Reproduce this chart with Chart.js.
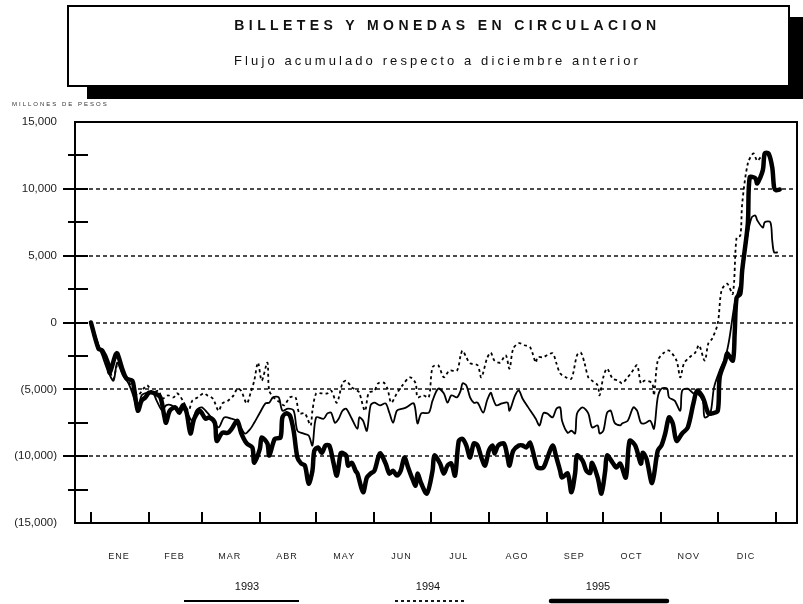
<!DOCTYPE html>
<html lang="es">
<head>
<meta charset="utf-8">
<title>Billetes y monedas en circulación</title>
<script src="https://cdn.jsdelivr.net/npm/chart.js@4.4.1/dist/chart.umd.min.js"></script>
<style>
    html, body { margin: 0; padding: 0; background: #fff; }
    #wrap {
        position: relative; width: 803px; height: 604px; overflow: hidden;
        font-family: "Liberation Sans", Arial, sans-serif; color: #111;
    }
    #grafica { position: absolute; left: 0; top: 0; }
    .caja {
        position: absolute; left: 67px; top: 5px; width: 719px; height: 78px;
        border: 2px solid #000; background: #fff; box-shadow: 20px 12px 0 #000;
    }
    .caja h1, .caja p {
        position: absolute; left: 0; right: 0; margin: 0; text-align: center;
        line-height: 16px; white-space: nowrap;
    }
    .caja h1 { top: 10px; padding-left: 38px; font-size: 14px; font-weight: bold; letter-spacing: 4.4px; }
    .caja p { top: 46px; padding-left: 18px; font-size: 13px; letter-spacing: 3.1px; }
    .unidad {
        position: absolute; left: 12px; top: 101px; font-size: 6px;
        letter-spacing: 2px; color: #333; white-space: nowrap;
    }
</style>
</head>
<body>
<div id="wrap">
    <canvas id="grafica" width="803" height="604"></canvas>
    <div class="caja">
        <h1>BILLETES Y MONEDAS EN CIRCULACION</h1>
        <p>Flujo acumulado respecto a diciembre anterior</p>
    </div>
    <div class="unidad">MILLONES DE PESOS</div>
</div>
<script>
'use strict';

// dia del año (0 = 1 de enero) y flujo acumulado en millones de pesos
const meses = ["ENE", "FEB", "MAR", "ABR", "MAY", "JUN", "JUL", "AGO", "SEP", "OCT", "NOV", "DIC"];
const inicioMes = [0, 31, 59, 90, 120, 151, 181, 212, 243, 273, 304, 334, 365];
const lineasGuia = [-10000, -5000, 0, 5000, 10000];
const anios = ["1993", "1994", "1995"];

const dias1993 = [
    0, 4, 6, 9, 12, 14, 17, 20, 22, 25,
    27, 30, 33, 35, 38, 40, 43, 46, 48, 51,
    54, 56, 59, 62, 64, 68, 71, 75, 78, 82,
    85, 87, 90, 93, 95, 97, 100, 102, 105, 108,
    110, 113, 116, 118, 120, 124, 126, 128, 130, 132,
    134, 136, 139, 142, 143, 145, 147, 149, 151, 154,
    157, 159, 161, 163, 166, 168, 172, 174, 176, 180,
    182, 185, 188, 190, 192, 195, 197, 198, 200, 202,
    204, 206, 209, 211, 213, 214, 216, 219, 222, 223,
    226, 228, 230, 233, 237, 239, 241, 243, 246, 248,
    250, 251, 254, 256, 258, 259, 262, 265, 267, 270,
    271, 273, 275, 277, 279, 282, 283, 286, 289, 291,
    293, 295, 298, 300, 302, 304, 307, 308, 311, 314,
    315, 318, 321, 323, 326, 327, 330, 332, 335, 338,
    340, 343, 345, 347, 348, 350, 352, 354, 355, 358,
    359, 362, 363, 364, 366
];
const valores1993 = [
    0, -1700, -2450, -3600, -4350, -3000, -3950, -4550, -5250, -6450,
    -5450, -5250, -5250, -5850, -6600, -6200, -6200, -6600, -6350, -6750,
    -7350, -6600, -6350, -6750, -7100, -7850, -7100, -7200, -7350, -8300,
    -7950, -7500, -6750, -6050, -6000, -5600, -5600, -6600, -6450, -6600,
    -8100, -8300, -8450, -9200, -7100, -7200, -6800, -6750, -7500, -7200,
    -6600, -6450, -7200, -7950, -7100, -7350, -8100, -6200, -6000, -6200,
    -6050, -6750, -7500, -6600, -6450, -6350, -6050, -7550, -6800, -6750,
    -5850, -4950, -5300, -6000, -5450, -5600, -5100, -4550, -4700, -5600,
    -6000, -6000, -6750, -5850, -5250, -5600, -6200, -6050, -6000, -6600,
    -5450, -5100, -5700, -6350, -7200, -7700, -6800, -6800, -7100, -6450,
    -6350, -7350, -8250, -8100, -8300, -6800, -6350, -6800, -7850, -7700,
    -8300, -8100, -6750, -6600, -7500, -7700, -7550, -7350, -6350, -6600,
    -7500, -7550, -7350, -7950, -5600, -4950, -4950, -5600, -5850, -6600,
    -5100, -4950, -5300, -5300, -5850, -7100, -6800, -4850, -3600, -2600,
    -1350, 1400, 2400, 3350, 4850, 6650, 7850, 8000, 7650, 7100,
    7500, 7500, 6150, 5250, 5250
];

const dias1994 = [
    0, 4, 6, 9, 12, 14, 17, 20, 22, 25,
    28, 30, 33, 36, 38, 41, 44, 46, 49, 52,
    54, 57, 60, 62, 65, 68, 70, 73, 76, 78,
    80, 83, 85, 87, 89, 91, 94, 95, 98, 101,
    103, 106, 109, 111, 114, 117, 118, 120, 123, 126,
    128, 131, 134, 136, 139, 142, 143, 146, 148, 151,
    153, 156, 158, 160, 163, 166, 170, 173, 174, 177,
    180, 182, 185, 188, 191, 195, 197, 198, 200, 202,
    206, 208, 211, 213, 215, 218, 221, 223, 225, 228,
    231, 234, 237, 238, 241, 243, 246, 248, 250, 253,
    256, 259, 261, 263, 265, 267, 270, 271, 273, 275,
    278, 281, 283, 286, 288, 291, 293, 295, 299, 300,
    302, 305, 308, 312, 314, 316, 319, 322, 324, 327,
    329, 331, 334, 336, 339, 342, 344, 346, 347, 350,
    353, 355, 357
];
const valores1994 = [
    0, -1700, -2250, -3200, -4200, -3200, -3600, -4350, -4950, -5450,
    -4950, -4700, -5250, -5100, -5700, -5450, -5600, -5300, -5850, -6600,
    -5850, -5600, -5300, -5450, -5700, -6600, -6050, -5850, -5450, -4950,
    -5100, -6050, -5300, -4350, -3000, -4350, -3000, -5100, -5700, -6000,
    -6200, -5600, -5600, -6800, -6800, -7700, -6600, -5300, -5300, -5300,
    -5100, -6000, -4550, -4350, -4850, -5100, -5250, -6600, -5250, -5100,
    -4550, -4500, -4950, -6000, -5300, -4700, -4100, -4550, -5600, -5450,
    -5600, -3350, -3200, -4100, -3600, -3600, -2450, -2100, -2600, -3050,
    -3200, -4100, -2700, -2250, -2850, -3000, -2450, -3450, -1950, -1550,
    -1700, -1850, -3000, -2600, -2600, -2450, -2300, -3050, -3800, -4100,
    -4200, -2450, -2250, -3050, -4100, -4350, -4700, -5450, -4100, -3450,
    -4200, -4350, -4550, -4100, -3750, -3200, -4550, -4350, -4550, -5450,
    -2850, -2300, -2100, -2850, -4100, -3050, -2600, -2250, -1700, -2850,
    -1550, -1200, -50, 2400, 2900, 2150, 6350, 6500, 8900, 11900,
    12650, 12100, 12400
];

const dias1995 = [
    0, 4, 6, 9, 10, 13, 14, 17, 19, 22,
    23, 25, 27, 29, 31, 34, 37, 39, 40, 42,
    45, 47, 49, 51, 53, 55, 58, 61, 63, 66,
    67, 70, 73, 75, 78, 80, 83, 86, 87, 90,
    91, 94, 95, 98, 101, 102, 104, 106, 108, 110,
    112, 114, 116, 118, 119, 121, 123, 125, 127, 129,
    131, 133, 134, 136, 137, 139, 141, 142, 145, 147,
    149, 151, 154, 157, 159, 161, 163, 165, 167, 169,
    171, 173, 174, 176, 179, 182, 183, 186, 188, 190,
    192, 194, 196, 198, 200, 202, 204, 206, 208, 210,
    212, 214, 215, 217, 220, 222, 223, 225, 228, 230,
    232, 234, 237, 238, 241, 243, 246, 248, 250, 251,
    254, 256, 258, 259, 262, 264, 266, 267, 270, 272,
    274, 275, 278, 280, 282, 285, 287, 290, 293, 294,
    296, 299, 302, 304, 306, 308, 310, 312, 315, 318,
    321, 323, 326, 329, 331, 334, 335, 338, 339, 342,
    343, 344, 346, 347, 350, 351, 354, 355, 358, 359,
    361, 363, 364, 365, 367
];
const valores1995 = [
    0, -1950, -2100, -3000, -3750, -2450, -2300, -3600, -4200, -4350,
    -4950, -6600, -5850, -5600, -5250, -5300, -5600, -6950, -7500, -6600,
    -6350, -6750, -6200, -6750, -8300, -7200, -6600, -7200, -7100, -7500,
    -8850, -8250, -8250, -7950, -7350, -8250, -9050, -9350, -10500, -9450,
    -8600, -9050, -9950, -8700, -8600, -7100, -6800, -6950, -8100, -10100,
    -10550, -10700, -12050, -11100, -9600, -9350, -9750, -9200, -9200, -10350,
    -11450, -9800, -9750, -9950, -10700, -10500, -11100, -11300, -12700, -11600,
    -11300, -11100, -9800, -10550, -11300, -11100, -11450, -11100, -10100, -10850,
    -11600, -12200, -11300, -12050, -12800, -11100, -9950, -10550, -11300, -10700,
    -10550, -11450, -8850, -8700, -9200, -10100, -9050, -9200, -10100, -10700,
    -9600, -9200, -9800, -9200, -9050, -10100, -10700, -9600, -9200, -9200,
    -9350, -9000, -10500, -10850, -10850, -10200, -9200, -10100, -11100, -11600,
    -11300, -12700, -11250, -9950, -10350, -11100, -11250, -10500, -11600, -12800,
    -11100, -9950, -10500, -10850, -10550, -11600, -8850, -9200, -10550, -9750,
    -10200, -12000, -9600, -9200, -8300, -7100, -7550, -8850, -8300, -7850,
    -6050, -5100, -5600, -6800, -6800, -6600, -4100, -2850, -2300, -2850,
    -800, 1850, 2150, 3900, 7400, 10850, 10800, 10400, 11400, 12650,
    12650, 11600, 10100, 9900, 9950
];

const FUENTE = '"Liberation Sans", Arial, sans-serif';

function puntos(dias, valores) {
    return dias.map((d, i) => ({ x: d, y: valores[i] }));
}

function formatoMiles(v) {
    const txt = Math.abs(v).toLocaleString('en-US');
    return v < 0 ? '(' + txt + ')' : txt;
}

// leyenda debajo del eje: centro del texto y extremos de la muestra de linea
const leyendaPos = [
    { texto: 247, desde: 184, hasta: 299 },
    { texto: 428, desde: 395, hasta: 465 },
    { texto: 598, desde: 551, hasta: 667 },
];

const decoracion = {
    id: 'decoracion',
    beforeDatasetsDraw(chart) {
        const { ctx, chartArea: a, scales: { y } } = chart;
        ctx.save();
        ctx.strokeStyle = '#111';
        ctx.lineWidth = 1.5;
        ctx.setLineDash([4, 3]);
        lineasGuia.forEach(v => {
            const py = Math.round(y.getPixelForValue(v));
            ctx.beginPath();
            ctx.moveTo(a.left, py);
            ctx.lineTo(a.right, py);
            ctx.stroke();
        });
        ctx.restore();
    },
    afterDatasetsDraw(chart) {
        const { ctx, chartArea: a, scales: { x, y } } = chart;
        ctx.save();
        ctx.strokeStyle = '#000';
        ctx.lineWidth = 2;

        // marcas del eje vertical
        y.ticks.forEach(t => {
            if (Math.abs(t.value) === 15000) return;
            const py = Math.round(y.getPixelForValue(t.value));
            const mayor = t.value % 5000 === 0;
            ctx.beginPath();
            ctx.moveTo(a.left - (mayor ? 12 : 7), py);
            ctx.lineTo(a.left + 13, py);
            ctx.stroke();
        });

        // marcas de inicio de mes
        inicioMes.forEach(d => {
            const px = Math.round(x.getPixelForValue(d));
            ctx.beginPath();
            ctx.moveTo(px, a.bottom - 11);
            ctx.lineTo(px, a.bottom);
            ctx.stroke();
        });

        ctx.strokeRect(a.left, a.top, a.right - a.left, a.bottom - a.top);

        // nombres de los meses
        ctx.fillStyle = '#222';
        ctx.font = '9px ' + FUENTE;
        ctx.textAlign = 'center';
        ctx.textBaseline = 'middle';
        if ('letterSpacing' in ctx) ctx.letterSpacing = '1px';
        meses.forEach((m, i) => {
            const px = x.getPixelForValue((inicioMes[i] + inicioMes[i + 1]) / 2);
            ctx.fillText(m, px - 1, 557);
        });
        if ('letterSpacing' in ctx) ctx.letterSpacing = '0px';

        // leyenda
        ctx.font = '11px ' + FUENTE;
        chart.data.datasets.forEach((ds, i) => {
            const pos = leyendaPos[i];
            ctx.fillStyle = '#111';
            ctx.fillText(ds.label, pos.texto, 587);
            ctx.strokeStyle = ds.borderColor;
            ctx.lineWidth = ds.borderWidth;
            ctx.lineCap = ds.borderWidth > 3 ? 'round' : 'butt';
            ctx.setLineDash(ds.borderDash || []);
            ctx.beginPath();
            ctx.moveTo(pos.desde, 601);
            ctx.lineTo(pos.hasta, 601);
            ctx.stroke();
        });
        ctx.restore();
    }
};

const serieBase = {
    borderColor: '#000',
    pointRadius: 0,
    tension: 0.3,
    fill: false,
};

new Chart(document.getElementById('grafica'), {
    type: 'line',
    data: {
        datasets: [
            { ...serieBase, label: anios[0], data: puntos(dias1993, valores1993), borderWidth: 1.8, order: 1 },
            { ...serieBase, label: anios[1], data: puntos(dias1994, valores1994), borderWidth: 1.8, borderDash: [3, 3], order: 2 },
            { ...serieBase, label: anios[2], data: puntos(dias1995, valores1995), borderWidth: 4.5, borderCapStyle: 'round', borderJoinStyle: 'round', order: 0 },
        ]
    },
    options: {
        responsive: false,
        animation: false,
        events: [],
        layout: { padding: { top: 122, right: 6, bottom: 81, left: 0 } },
        plugins: { legend: { display: false }, tooltip: { enabled: false } },
        scales: {
            x: {
                type: 'linear',
                display: false,
                min: -8.5,
                max: 376.2,
            },
            y: {
                min: -15000,
                max: 15000,
                afterFit(scale) { scale.width = 75; },
                grid: { display: false, drawTicks: false },
                border: { display: false },
                ticks: {
                    stepSize: 2500,
                    autoSkip: false,
                    padding: 18,
                    color: '#222',
                    font: { family: FUENTE, size: 11.5 },
                    callback: v => (v % 5000 === 0 ? formatoMiles(v) : ''),
                },
            },
        },
    },
    plugins: [decoracion],
});
</script>
</body>
</html>
